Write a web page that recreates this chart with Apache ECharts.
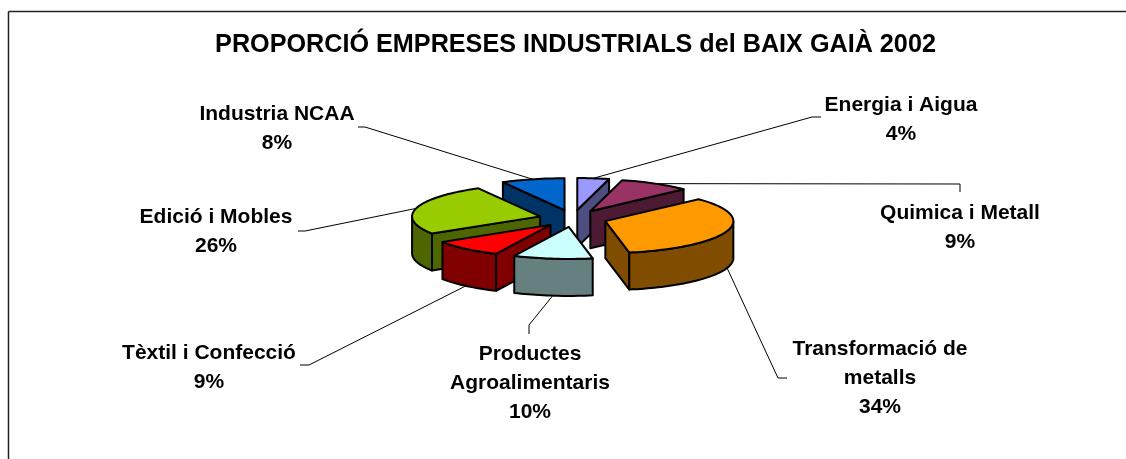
<!DOCTYPE html>
<html>
<head>
<meta charset="utf-8">
<style>
html, body { margin: 0; padding: 0; background: #fff; }
#main { width: 1126px; height: 459px; }
</style>
<script src="https://cdn.jsdelivr.net/npm/echarts@6/dist/echarts.min.js"></script>
</head>
<body>
<div id="main"></div>
<script>
// data
var chartTitle = 'PROPORCIÓ EMPRESES INDUSTRIALS del BAIX GAIÀ 2002';
var sliceNames = ['Energia i Aigua', 'Quimica i Metall', 'Transformació de\nmetalls', 'Productes\nAgroalimentaris', 'Tèxtil i Confecció', 'Edició i Mobles', 'Industria NCAA'];
var sliceValues = [4, 9, 34, 10, 9, 26, 8];
var topColors = ['#9999FF', '#993366', '#FF9900', '#CCFFFF', '#FF0000', '#99CC00', '#0066CC'];
var wallColors = ['#4D4D80', '#4D1A33', '#804D00', '#668080', '#800000', '#4D6600', '#003366'];
// back to front, so nearer slices cover the ones behind
var drawOrder = [6, 0, 1, 5, 2, 4, 3];

// layout of the 3d pie
var pieX = 573, pieY = 218.5, pieR = 128, tilt = 0.25, explode = 34, depth = 37;
var fontName = '"Liberation Sans", Arial, sans-serif';
var labelSize = 21;
var labelLine = 29;
// label centre (first line), then the two leader points next to the label
var labelX = [901, 960, 880, 530, 209, 216, 277];
var labelY = [105, 213, 349, 354, 353, 217, 114];
var leaderA = [[821, 117], [960, 192], [787, 378], [529, 334], [300, 365], [298, 231], [358, 127]];
var leaderB = [[812, 117], [960, 184], [778, 378], [529, 325], [309, 365], [305, 231], [365, 127]];

var total = 0;
for (var t = 0; t < sliceValues.length; t++) total += sliceValues[t];

var sliceStart = [], sliceEnd = [];
var acc = 0;
for (var s = 0; s < sliceValues.length; s++) {
    sliceStart.push(acc / total * Math.PI * 2);
    acc += sliceValues[s];
    sliceEnd.push(acc / total * Math.PI * 2);
}

function apex(i) {
    var mid = (sliceStart[i] + sliceEnd[i]) / 2;
    return [pieX + explode * Math.sin(mid), pieY - explode * tilt * Math.cos(mid)];
}
function rim(i, a) {
    var c = apex(i);
    return [c[0] + pieR * Math.sin(a), c[1] - pieR * tilt * Math.cos(a)];
}
function arc(i, a0, a1) {
    var pts = [];
    var n = Math.max(2, Math.ceil(Math.abs(a1 - a0) / 0.03));
    for (var k = 0; k <= n; k++) pts.push(rim(i, a0 + (a1 - a0) * k / n));
    return pts;
}
function down(p) {
    return [p[0], p[1] + depth];
}
function face(points, fill) {
    return {
        type: 'polygon',
        shape: { points: points },
        style: { fill: fill, stroke: '#000', lineWidth: 2, lineJoin: 'round' }
    };
}

function renderSlice(params, api) {
    var i = api.value(0);
    var c = apex(i);
    var a0 = sliceStart[i], a1 = sliceEnd[i];
    var kids = [];
    // cut faces turned to the viewer
    if (Math.sin(a0) < 0) {
        var p0 = rim(i, a0);
        kids.push(face([c, p0, down(p0), down(c)], wallColors[i]));
    }
    if (Math.sin(a1) > 0) {
        var p1 = rim(i, a1);
        kids.push(face([c, p1, down(p1), down(c)], wallColors[i]));
    }
    // outer wall, only the front half
    var w0 = Math.max(a0, Math.PI / 2), w1 = Math.min(a1, Math.PI * 1.5);
    if (w1 > w0) {
        var upper = arc(i, w0, w1);
        var lower = upper.map(down).reverse();
        kids.push(face(upper.concat(lower), wallColors[i]));
    }
    // top
    kids.push(face([c].concat(arc(i, a0, a1)), topColors[i]));
    return { type: 'group', children: kids };
}

// label text and leader lines
var graphics = [
    { type: 'line', shape: { x1: 8.5, y1: 11.5, x2: 1126, y2: 11.5 }, style: { stroke: '#222', lineWidth: 1.5 } },
    { type: 'line', shape: { x1: 8.5, y1: 11.5, x2: 8.5, y2: 459 }, style: { stroke: '#222', lineWidth: 1.5 } }
];
for (var g = 0; g < sliceValues.length; g++) {
    var mid = (sliceStart[g] + sliceEnd[g]) / 2;
    var end = rim(g, mid);
    if (Math.cos(mid) < 0) end = down(end);
    graphics.push({
        type: 'polyline',
        shape: { points: [leaderA[g], leaderB[g], end] },
        style: { fill: null, stroke: '#000', lineWidth: 1 }
    });
    graphics.push({
        type: 'text',
        x: labelX[g],
        y: labelY[g] - labelLine / 2,
        style: {
            text: sliceNames[g] + '\n' + sliceValues[g] + '%',
            align: 'center',
            verticalAlign: 'top',
            font: 'bold ' + labelSize + 'px ' + fontName,
            lineHeight: labelLine,
            fill: '#000'
        }
    });
}

var myChart = echarts.init(document.getElementById('main'), null, { renderer: 'canvas' });
var option = {
    animation: false,
    backgroundColor: '#fff',
    title: {
        text: chartTitle,
        left: 570.5,
        top: 28,
        textAlign: 'center',
        textStyle: { fontFamily: fontName, fontWeight: 'bold', fontSize: 25.2, color: '#000' }
    },
    graphic: graphics,
    series: [{
        type: 'custom',
        coordinateSystem: 'none',
        renderItem: renderSlice,
        z: 5,
        data: drawOrder.map(function (i) {
            return { name: sliceNames[i], value: [i, sliceValues[i]] };
        })
    }]
};
myChart.setOption(option);
</script>
</body>
</html>
